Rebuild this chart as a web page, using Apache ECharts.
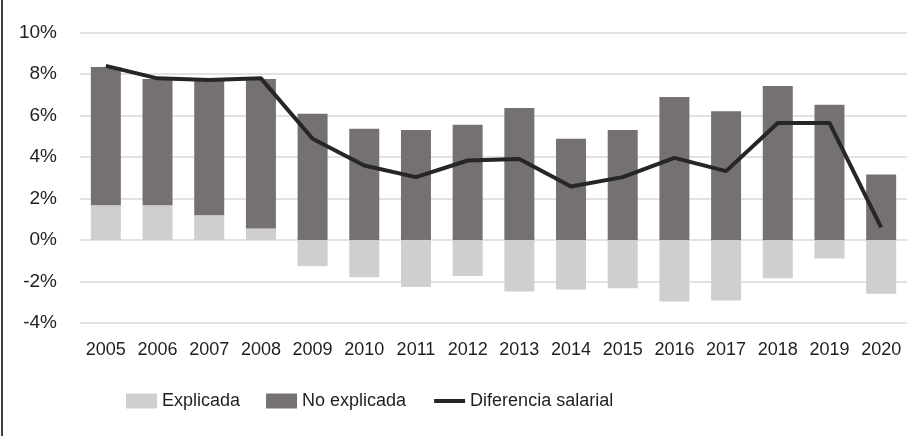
<!DOCTYPE html>
<html>
<head>
<meta charset="utf-8">
<script src="https://cdn.jsdelivr.net/npm/echarts@6/dist/echarts.min.js"></script>
<style>
html,body{margin:0;padding:0;background:#fff;}
#c{width:909px;height:436px;}
</style>
</head>
<body>
<div id="c"></div>
<script>
const years = ['2005','2006','2007','2008','2009','2010','2011','2012','2013','2014','2015','2016','2017','2018','2019','2020'];
const explicada = [1.67,1.67,1.19,0.55,-1.26,-1.79,-2.27,-1.74,-2.48,-2.38,-2.32,-2.96,-2.91,-1.84,-0.89,-2.59];
const noExplicada = [6.67,6.09,6.49,7.21,6.09,5.36,5.30,5.56,6.36,4.88,5.30,6.89,6.20,7.42,6.52,3.16];
const diferencia = [8.39,7.79,7.71,7.79,4.88,3.59,3.03,3.83,3.90,2.58,3.03,3.96,3.32,5.64,5.64,0.61];
const yTicks = {min:-4, max:10, interval:2};

const font = 'Liberation Sans';
const txt = '#1f1f1f';
const chart = echarts.init(document.getElementById('c'), null, {renderer:'canvas'});
chart.setOption({
  animation:false,
  backgroundColor:'#fff',
  textStyle:{fontFamily:font},
  grid:{left:80, right:2, top:32.5, bottom:113, containLabel:false},
  legend:{
    left:126, top:392, padding:0,
    itemWidth:31, itemHeight:15, itemGap:26,
    textStyle:{fontFamily:font, fontSize:18, color:txt},
    data:[
      {name:'Explicada', icon:'rect'},
      {name:'No explicada', icon:'rect'},
      {name:'Diferencia salarial', itemStyle:{opacity:0}, lineStyle:{width:4, color:'#262626'}}
    ]
  },
  xAxis:{
    type:'category', data:years,
    axisLine:{show:false}, axisTick:{show:false},
    axisLabel:{fontFamily:font, fontSize:18, color:txt, margin:18, interval:0}
  },
  yAxis:{
    type:'value', min:yTicks.min, max:yTicks.max, interval:yTicks.interval,
    axisLine:{show:false}, axisTick:{show:false},
    axisLabel:{fontFamily:font, fontSize:19, color:txt, margin:23, formatter:'{value}%'},
    splitLine:{lineStyle:{color:'#d9d9d9', width:1.5}}
  },
  series:[
    {name:'Explicada', type:'bar', stack:'t', data:explicada, barWidth:30,
     itemStyle:{color:'#d0cece'}},
    {name:'No explicada', type:'bar', stack:'t', data:noExplicada, barWidth:30,
     itemStyle:{color:'#767171'}},
    {name:'Diferencia salarial', type:'line', data:diferencia, symbol:'none', z:5,
     lineStyle:{color:'#262626', width:4}, itemStyle:{color:'#262626'}}
  ],
  graphic:[
    {type:'line', shape:{x1:2, y1:0, x2:2, y2:436}, style:{stroke:'#000', lineWidth:1.5}}
  ]
});
</script>
</body>
</html>
